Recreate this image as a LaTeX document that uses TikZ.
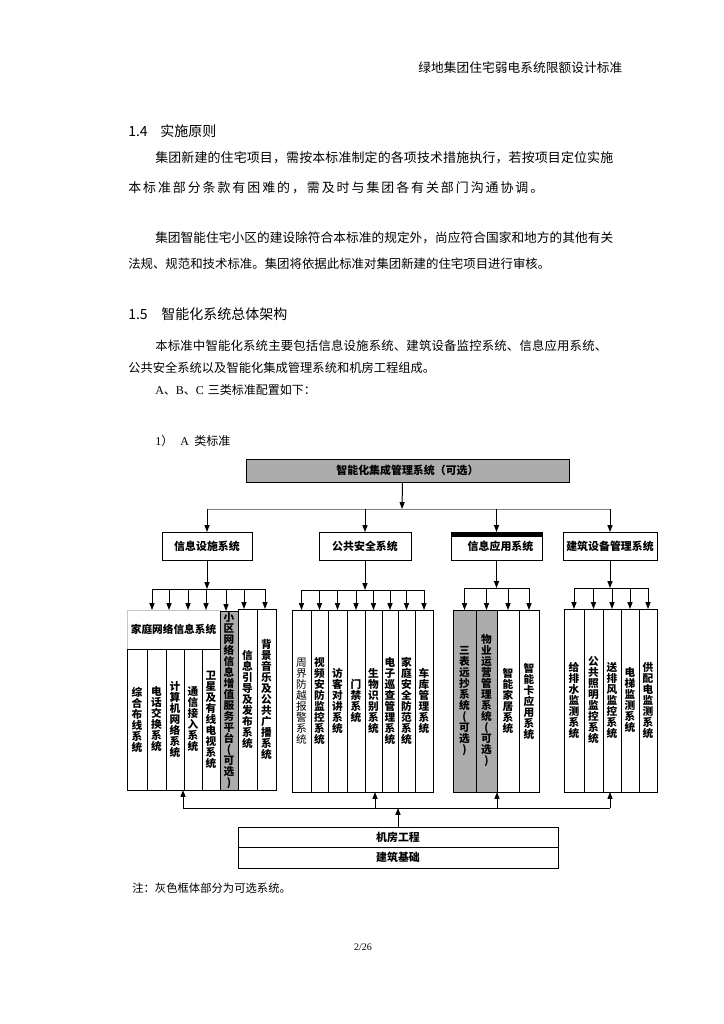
\documentclass[tikz,border=0pt]{standalone}
\usepackage{fontspec}
\setmainfont{Noto Sans CJK SC}
\newfontfamily\latin{Liberation Serif}
\usetikzlibrary{arrows.meta}
\definecolor{optgray}{RGB}{172,172,172}
\tikzset{
  arr/.style={-{Triangle[length=5.2pt,width=3.8pt]}, line width=0.75pt},
  busline/.style={line width=0.75pt},
  graybus/.style={line width=0.6pt, draw=gray},
  boxst/.style={draw, line width=0.75pt, inner sep=0pt, outer sep=0pt},
  lvtwo/.style={font=\bfseries\fontsize{8.2}{10}\selectfont},
  colt/.style={align=center, font=\bfseries\fontsize{8}{8.25}\selectfont},
  bodyt/.style={anchor=west, inner sep=0pt},
}
\newcommand\mybox[7][]{\node[boxst,#1,minimum width={(#5-#3)*0.75pt},minimum height={(#6-#4)*0.75pt}] (#2) at ({(#3+#5)/2},{(#4+#6)/2}) {#7};}
\newcommand\fitw[2]{\hbox to \dimexpr 0.75pt*#1\relax{#2}}
\makeatletter
\newcommand\spreadto[2]{\hbox to \dimexpr 0.75pt*#1\relax{\@tfor\spr@c:=#2\do{\spr@c\hfil}\unskip}}
\makeatother
\begin{document}
\begin{tikzpicture}[x=0.75pt,y=-0.75pt]
\fill[white] (0,0) rectangle (724,1024);
\useasboundingbox (0,0) rectangle (724,1024);

% ---------- page text ----------
\node[bodyt, font=\fontsize{9.5}{11}\selectfont] (hdrtxt) at (418,68) {\spreadto{204}{绿地集团住宅弱电系统限额设计标准}};
\node[bodyt, font=\fontsize{10.5}{12}\selectfont] (h14) at (128,131) {\fitw{88}{1.4\hfil 实施原则}};
\node[bodyt, font=\fontsize{9.7}{12}\selectfont] (p1a) at (155,158) {\spreadto{458}{集团新建的住宅项目，需按本标准制定的各项技术措施执行，若按项目定位实施}};
\node[bodyt, font=\fontsize{9.7}{12}\selectfont] (p1b) at (128,188) {\spreadto{415}{本标准部分条款有困难的，需及时与集团各有关部门沟通协调。}};
\node[bodyt, font=\fontsize{9.5}{11}\selectfont] (p2a) at (155,238) {\spreadto{458}{集团智能住宅小区的建设除符合本标准的规定外，尚应符合国家和地方的其他有关}};
\node[bodyt, font=\fontsize{9.3}{11}\selectfont] (p2b) at (128,264) {\spreadto{422}{法规、规范和技术标准。集团将依据此标准对集团新建的住宅项目进行审核。}};
\node[bodyt, font=\fontsize{10.5}{12}\selectfont] (h15) at (128,314) {\fitw{159}{1.5\hfil 智能化系统总体架构}};
\node[bodyt, font=\fontsize{9.3}{11}\selectfont] (p3a) at (155,346) {\spreadto{452}{本标准中智能化系统主要包括信息设施系统、建筑设备监控系统、信息应用系统、}};
\node[bodyt, font=\fontsize{9.2}{11}\selectfont] (p3b) at (128,368) {\spreadto{307}{公共安全系统以及智能化集成管理系统和机房工程组成。}};
\node[bodyt, font=\fontsize{9}{11}\selectfont] (p4) at (155,390) {\fitw{157}{{\latin A}、{\latin B}、{\latin C}\hspace{3pt}三类标准配置如下\hfil ：}};
\node[bodyt, font=\fontsize{9}{11}\selectfont] (p5) at (155,441) {\fitw{75}{{\latin 1}）\hfil{\latin A}\hspace{4pt}类标准}};
\node[bodyt, font=\fontsize{8.5}{11}\selectfont] (note) at (132,888) {注：灰色框体部分为可选系统。};
\node[inner sep=0pt, font=\latin\fontsize{7.5}{9}\selectfont] (page) at (363,947) {2/26};

% ---------- diagram: top ----------
\mybox[fill=optgray, lvtwo]{topbox}{246}{459}{569}{482}{智能化集成管理系统（可选）}

\mybox[lvtwo]{info}{162}{532}{252}{560}{信息设施系统}
\mybox[lvtwo]{safety}{319}{532}{411}{560}{公共安全系统}
\mybox[lvtwo]{app}{451}{532}{542}{560}{\hspace*{6pt}信息应用系统}
\fill (451,532) rectangle (542,537);
\mybox[lvtwo]{bldg}{563}{532}{657}{560}{建筑设备管理系统}

\coordinate (t0) at ([xshift=-3.75pt]topbox.south);
\coordinate (bT) at (402,509);
\draw[arr] (t0) -- (bT);
\draw[graybus] (info.north |- bT) -- (bldg.north |- bT);
\foreach \n in {info,safety,app,bldg} \draw[arr] (\n.north |- bT) -- (\n.north);

% ---------- left group ----------
\mybox[draw=gray!45, colt]{hdr}{127}{610}{220}{649}{家庭网络信息系统}
\mybox[colt]{c1}{127}{649}{147}{790}{综\\合\\布\\线\\系\\统}
\mybox[colt]{c2}{147}{649}{166}{790}{电\\话\\交\\换\\系\\统}
\mybox[colt]{c3}{166}{649}{184}{790}{计\\算\\机\\网\\络\\系\\统}
\mybox[colt]{c4}{184}{649}{202}{790}{通\\信\\接\\入\\系\\统}
\mybox[colt]{c5}{202}{649}{220}{790}{卫\\星\\及\\有\\线\\电\\视\\系\\统}
\mybox[fill=optgray, colt]{g1}{220}{611}{238}{790}{小\\区\\网\\络\\信\\息\\增\\值\\服\\务\\平\\台\\(\\可\\选\\)}
\mybox[colt]{c7}{238}{609}{257}{790}{信\\息\\引\\导\\及\\发\\布\\系\\统}
\mybox[colt]{c8}{257}{609}{276}{790}{背\\景\\音\\乐\\及\\公\\共\\广\\播\\系\\统}

\coordinate (bI) at (207,589);
\draw[arr] (info.south) -- (info.south |- bI);
\coordinate (bIL) at (152,589);
\coordinate (bIR) at (265,589);
\draw[busline] (bIL) -- (bIR);
\foreach \x [count=\i] in {152,169,188,206} {
  \coordinate (d\i) at (\x,589);
  \draw[arr] (d\i) -- (d\i |- hdr.north);
}
\coordinate (d5) at (226,589);
\coordinate (d6) at (244,589);
\draw[arr] (d5) -- (d5 |- g1.north);
\draw[arr] (d6) -- (d6 |- c7.north);
\draw[arr] (bIR) -- (bIR |- c8.north);

% ---------- safety group ----------
\mybox[colt, font=\fontsize{8}{8.25}\selectfont]{s1}{292}{610}{311}{792}{周\\界\\防\\越\\报\\警\\系\\统}
\mybox[colt]{s2}{311}{610}{328}{792}{视\\频\\安\\防\\监\\控\\系\\统}
\mybox[colt]{s3}{328}{610}{347}{792}{访\\客\\对\\讲\\系\\统}
\mybox[colt]{s4}{347}{610}{365}{792}{门\\禁\\系\\统}
\mybox[colt]{s5}{365}{610}{382}{792}{生\\物\\识\\别\\系\\统}
\mybox[colt]{s6}{382}{610}{398}{792}{电\\子\\巡\\查\\管\\理\\系\\统}
\mybox[colt]{s7}{398}{610}{415}{792}{家\\庭\\安\\全\\防\\范\\系\\统}
\mybox[colt]{s8}{415}{610}{433}{792}{车\\库\\管\\理\\系\\统}

\coordinate (bS) at (364,590);
\draw[arr] (safety.south) -- (safety.south |- bS);
\draw[busline] (s1.north |- bS) -- (s8.north |- bS);
\foreach \n in {s1,s2,s3,s4,s5,s6,s7,s8} \draw[arr] (\n.north |- bS) -- (\n.north);

% ---------- application group ----------
\mybox[fill=optgray, colt]{a1}{453}{610}{476}{792}{三\\表\\远\\抄\\系\\统\\(\\可\\选\\)}
\mybox[fill=optgray, colt]{a2}{476}{610}{497}{792}{物\\业\\运\\营\\管\\理\\系\\统\\(\\可\\选\\)}
\mybox[colt]{a3}{497}{610}{519}{792}{智\\能\\家\\居\\系\\统}
\mybox[colt]{a4}{519}{610}{539}{792}{智\\能\\卡\\应\\用\\系\\统}

\coordinate (bA) at (497,588);
\draw[arr] (app.south) -- (app.south |- bA);
\draw[busline] (a1.north |- bA) -- (a4.north |- bA);
\foreach \n in {a1,a2,a3,a4} \draw[arr] (\n.north |- bA) -- (\n.north);

% ---------- building group ----------
\mybox[colt]{b1}{564}{609}{584}{792}{给\\排\\水\\监\\测\\系\\统}
\mybox[colt]{b2}{584}{609}{603}{792}{公\\共\\照\\明\\监\\控\\系\\统}
\mybox[colt]{b3}{603}{609}{621}{792}{送\\排\\风\\监\\控\\系\\统}
\mybox[colt]{b4}{621}{609}{639}{792}{电\\梯\\监\\测\\系\\统}
\mybox[colt]{b5}{639}{609}{657}{792}{供\\配\\电\\监\\测\\系\\统}

\coordinate (bB) at (611,588);
\draw[arr] (bldg.south) -- (bldg.south |- bB);
\draw[busline] (b1.north |- bB) -- (b5.north |- bB);
\foreach \n in {b1,b2,b3,b4,b5} \draw[arr] (\n.north |- bB) -- (\n.north);

% ---------- bottom ----------
\mybox[lvtwo]{jf}{238}{827}{558}{847}{机房工程}
\mybox[lvtwo]{jz}{238}{847}{558}{868}{建筑基础}

\coordinate (bU) at (397,808);
\draw[arr] (jf.north) -- (jf.north |- bU);
\coordinate (u1) at (183,808);
\coordinate (u2) at (375,808);
\coordinate (u3) at (497,808);
\coordinate (u4) at (610,808);
\draw[busline] (u1) -- (u4);
\draw[arr] (u1) -- (u1 |- c3.south);
\draw[arr] (u2) -- (u2 |- s5.south);
\draw[arr] (u3) -- (u3 |- a3.south);
\draw[arr] (u4) -- (u4 |- b3.south);
\end{tikzpicture}
\end{document}
